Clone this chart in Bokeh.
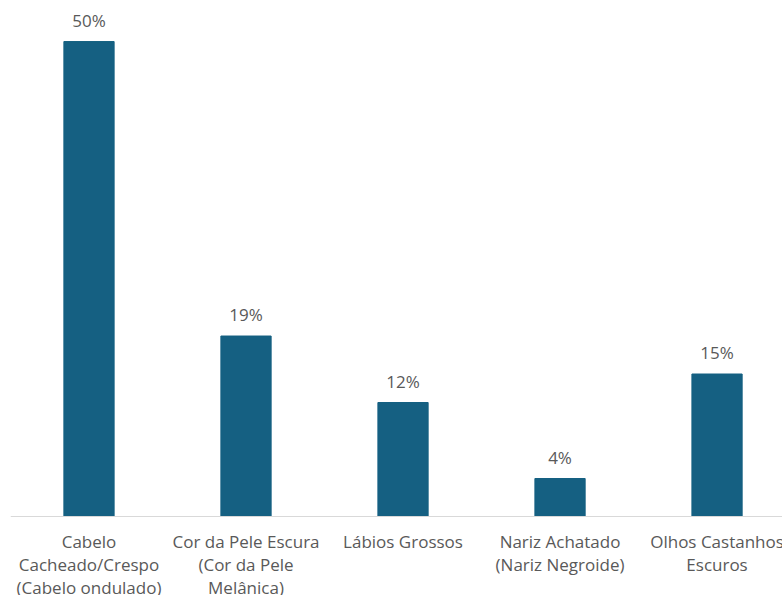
from bokeh.plotting import figure
from bokeh.models import Range1d, ColumnDataSource, LabelSet, Span
from bokeh.core.properties import value
from bokeh.embed import file_html
from bokeh.resources import INLINE

categories = [
    "Cabelo\nCacheado/Crespo\n(Cabelo ondulado)",
    "Cor da Pele Escura\n(Cor da Pele\nMelânica)",
    "Lábios Grossos",
    "Nariz Achatado\n(Nariz Negroide)",
    "Olhos Castanhos\nEscuros",
]
values = [50, 19, 12, 4, 15]
value_labels = ["50%", "19%", "12%", "4%", "15%"]

FONT = "Open Sans"
BAR = "#156082"
TXT = "#595959"

xs = list(range(len(categories)))
src = ColumnDataSource(dict(x=xs, top=values, lab=value_labels))

p = figure(width=782, height=595, output_backend="svg", toolbar_location=None,
           x_range=Range1d(-0.5, 4.417), y_range=Range1d(-8.316, 54.32),
           min_border_left=10, min_border_right=0, min_border_top=0, min_border_bottom=0)
p.outline_line_color = None
p.grid.visible = False
p.xaxis.visible = False
p.yaxis.visible = False

p.vbar(x="x", top="top", width=0.32, bottom=0, source=src, color=BAR)

# category axis baseline
p.add_layout(Span(location=0, dimension="width", line_color="#d9d9d9", line_width=1))

labels = LabelSet(x="x", y="top", text="lab", source=src, text_align="center",
                  text_baseline="alphabetic", y_offset=15, text_color=TXT,
                  text_font=value(FONT), text_font_size="17px")
p.add_layout(labels)

# category labels, one row of text per line
split = [c.split("\n") for c in categories]
nrows = max(len(s) for s in split)
for r in range(nrows):
    row = [s[r] if r < len(s) else "" for s in split]
    rs = ColumnDataSource(dict(x=xs, y=[0] * len(xs), t=row))
    p.add_layout(LabelSet(x="x", y="y", text="t", source=rs, text_align="center",
                          text_baseline="middle", y_offset=-(25 + 23 * r),
                          text_color=TXT, text_font=value(FONT),
                          text_font_size="17px"))

open("out.html", "w").write(file_html(p, INLINE))
